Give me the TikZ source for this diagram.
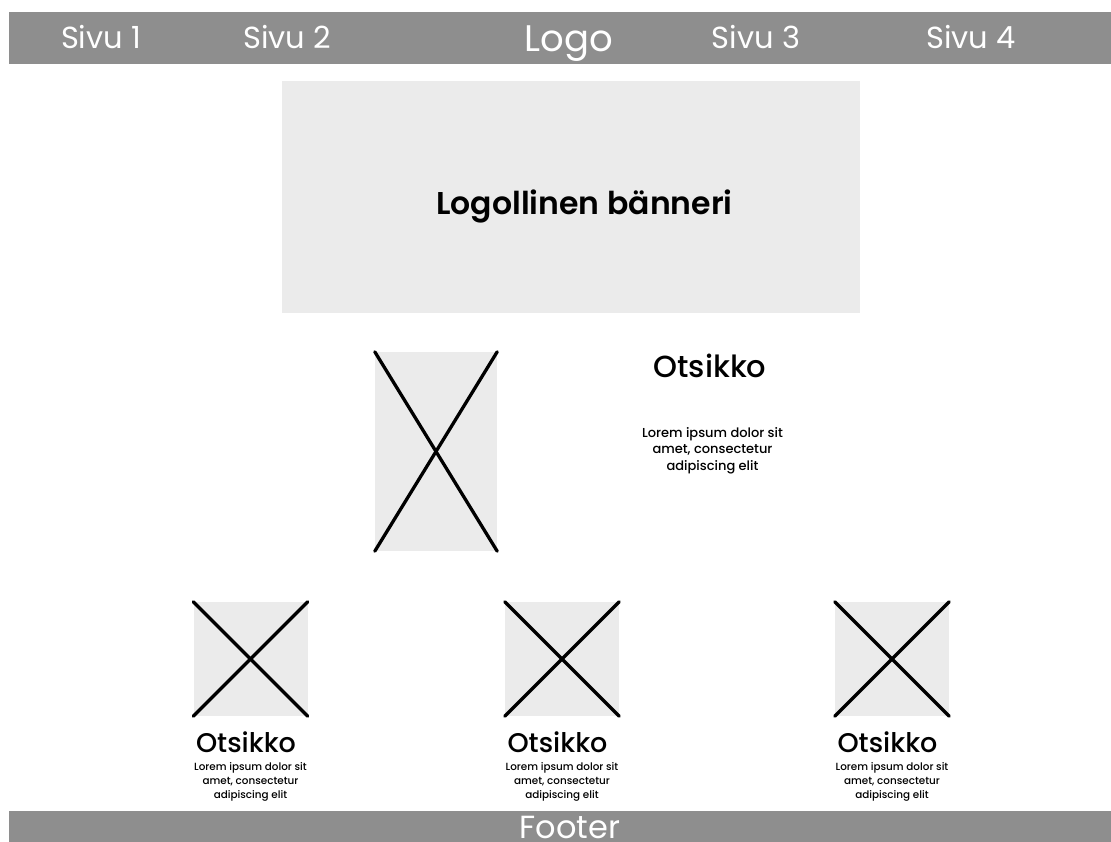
\documentclass[tikz,border=0pt]{standalone}
\usepackage{fontspec}
\setmainfont{Poppins}
\newfontfamily\popmed{Poppins}[UprightFont=* Medium]
\newfontfamily\popsemi{Poppins}[UprightFont=* SemiBold]
\definecolor{bargray}{HTML}{8E8E8E}
\definecolor{boxgray}{HTML}{EBEBEB}
\tikzset{
  bar/.style={fill=bargray, draw=none, inner sep=0pt, anchor=north west},
  bartext/.style={text=white, anchor=base, inner sep=0pt, font=\fontsize{30.5}{36}\selectfont},
  panel/.style={fill=boxgray, draw=none, inner sep=0pt},
  cross/.style={line width=3.3pt, line cap=round, black},
  title/.style={anchor=base, inner sep=0pt, text=black},
  body/.style={anchor=north, inner sep=0pt, align=center, text=black},
}
\begin{document}
\begin{tikzpicture}[x=1pt, y=-1pt]
  \useasboundingbox (0,0) rectangle (1111,842);

  % navigation bar
  \node[bar, minimum width=1102pt, minimum height=52pt] (nav) at (9,12) {};
  \node[bartext] (s1) at (101,49) {Sivu 1};
  \node[bartext] (s2) at (287,49) {Sivu 2};
  \node[bartext, font=\fontsize{37}{44}\selectfont] (logo) at (569,52) {Logo};
  \node[bartext] (s3) at (756,49) {Sivu 3};
  \node[bartext] (s4) at (971,49) {Sivu 4};

  % banner
  \node[panel, minimum width=578pt, minimum height=232pt] (banner) at (571,197) {};
  \node[title, font=\popsemi\fontsize{31.5}{36}\selectfont] (bannertext) at (584.5,215) {Logollinen bänneri};

  % main image and text
  \node[panel, minimum width=122pt, minimum height=199pt] (img) at (436,451.5) {};
  \draw[cross] (img.north west) -- (img.south east);
  \draw[cross] (img.north east) -- (img.south west);
  \node[title, font=\popmed\fontsize{30.5}{36}\selectfont] (head) at (710,377) {Otsikko};
  \node[body, font=\popmed\fontsize{13}{16.5}\selectfont] (lorem) at (712.5,427)
    {Lorem ipsum dolor sit\\amet, consectetur\\adipiscing elit};

  % three cards
  \foreach \n/\cx in {a/250.5, b/562, c/892} {
    \node[panel, minimum width=114pt, minimum height=114pt] (card\n) at (\cx,659) {};
    \draw[cross] (card\n.north west) -- (card\n.south east);
    \draw[cross] (card\n.north east) -- (card\n.south west);
    \node[title, font=\popmed\fontsize{27}{30}\selectfont] (cardhead\n) at ([xshift=-4.5pt]card\n.center |- 0,752) {Otsikko};
    \node[body, font=\popmed\fontsize{10.4}{14}\selectfont] (cardtext\n) at (card\n.center |- 0,762)
      {Lorem ipsum dolor sit\\amet, consectetur\\adipiscing elit};
  }

  % footer
  \node[bar, minimum width=1102pt, minimum height=31pt] (foot) at (9,811) {};
  \node[bartext, font=\fontsize{32}{38}\selectfont] (foottext) at (570,838.5) {Footer};
\end{tikzpicture}
\end{document}
